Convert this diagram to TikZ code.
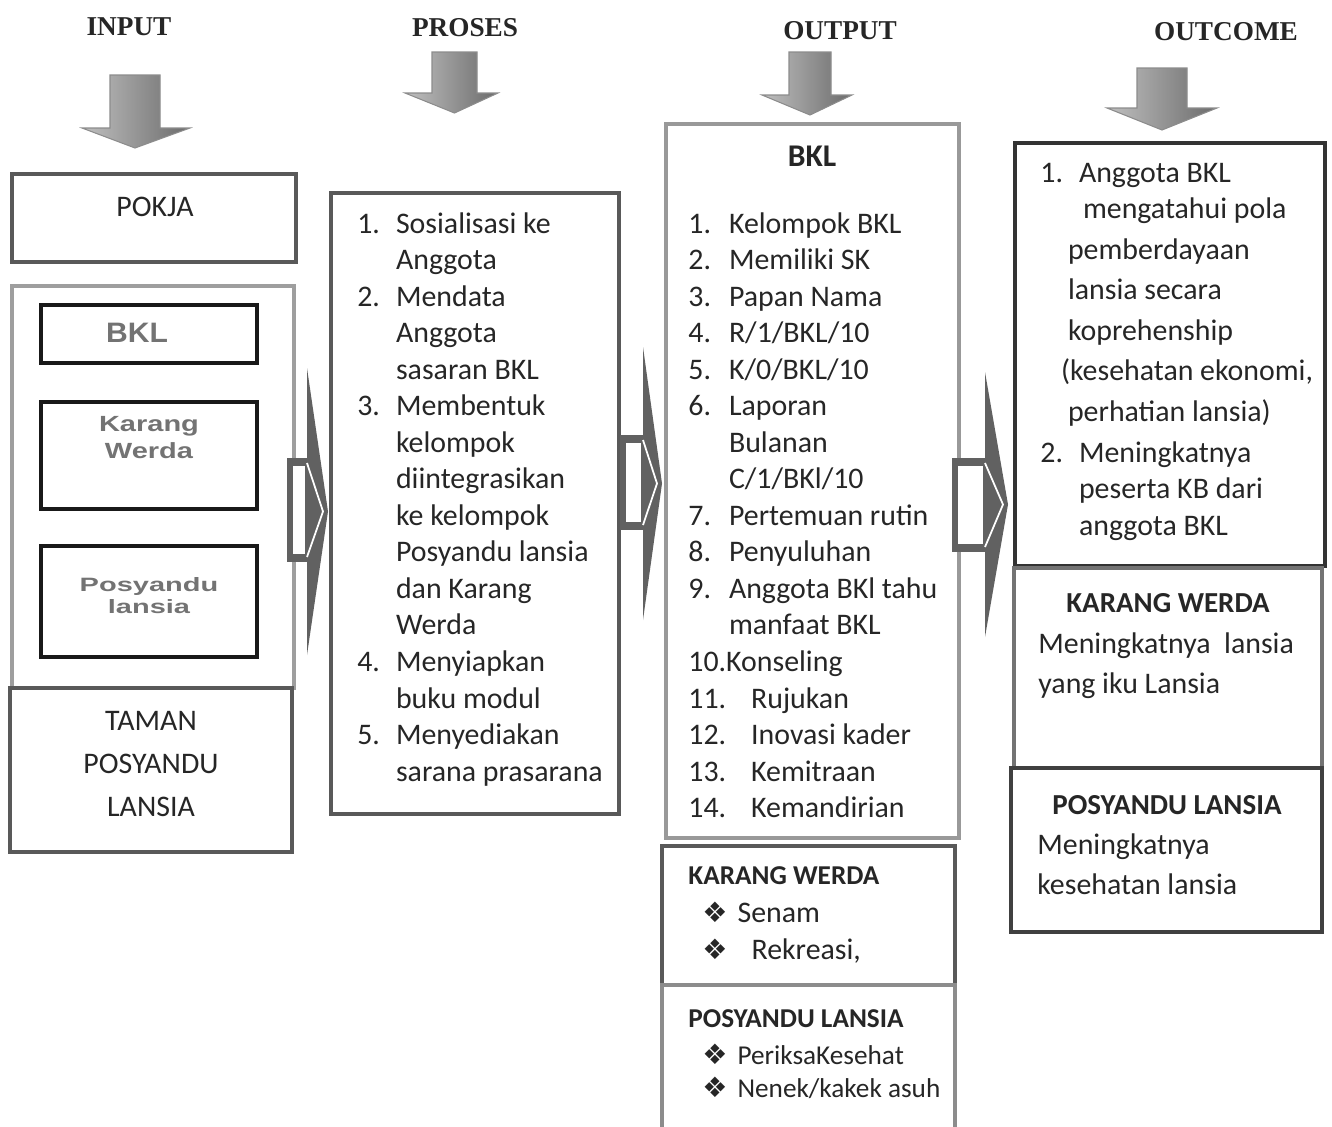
\documentclass[tikz,border=0pt]{standalone}
\usepackage{fontspec}
\setmainfont{Carlito}
\newfontfamily\hurufjudul{Liberation Serif}
\newfontfamily\hurufarial{Liberation Sans}
\newfontfamily\hurufsimbol{DejaVu Sans}
\usetikzlibrary{fit}

\newcommand{\butir}{{\hurufsimbol\fontsize{16}{16}\selectfont ❖}}
\newcommand{\baris}[1]{\multicolumn{2}{@{}l@{}}{#1}}

\begin{document}
\begin{tikzpicture}[
  x=0.02cm, y=-0.02cm,
  judul/.style={font=\hurufjudul\bfseries\fontsize{15.5}{18}\selectfont, text=black!85, inner sep=0pt},
  kotak/.style={draw=black!65, line width=2.5pt, inner sep=0pt},
  kotakdalam/.style={kotak, draw=black!90, line width=2.8pt},
  teks/.style={font=\fontsize{17}{20.8}\selectfont, text=black!85, inner sep=0pt},
  tebal/.style={teks, font=\bfseries\fontsize{15.5}{19}\selectfont},
  abuarial/.style={font=\hurufarial\bfseries, text=black!55, inner sep=0pt},
  panahbawah/.style={left color=black!25, right color=black!58, draw=black!45, line width=0.6pt},
  panahisi/.style={fill=black!62}
]
\useasboundingbox (0,0) rectangle (1332,1126);

% ---- judul kolom ----------------------------------------------------
\node[judul] (h-input)   at (129,27)  {INPUT};
\node[judul] (h-proses)  at (465,28)  {PROSES};
\node[judul] (h-output)  at (840,31)  {OUTPUT};
\node[judul] (h-outcome) at (1226,32) {OUTCOME};

% ---- panah ke bawah ---------------------------------------------------
\foreach \ua/\ub/\uc/\ud/\ue/\uf/\ug in {110/160/75/128/82/190/148,
    432/477/52/93/405/498/113, 789/831/52/95/762/852/115,
    1137/1187/68/108/1107/1217/130}
  \shade[panahbawah] (\ua,\uc) -- (\ub,\uc) -- (\ub,\ud) -- (\uf,\ud)
    -- ({(\ua+\ub)/2},\ug) -- (\ue,\ud) -- (\ua,\ud) -- cycle;

% ---- kolom input ----------------------------------------------------
\node[kotak, fit={(12,174) (296,262)}] (pokja) {};
\node[kotak, draw=black!38, fit={(12,286) (294,688)}] (wadah) {};
\node[kotakdalam, fit={(41,305) (257,363)}] (bkl-in) {};
\node[kotakdalam, fit={(41,402) (257,509)}] (kw-in) {};
\node[kotakdalam, fit={(41,546) (257,657)}] (pl-in) {};
\node[kotak, fit={(10,688) (292,852)}] (taman) {};

\node[teks] (pokja-t) at (155,207) {POKJA};
\node[abuarial] (bkl-in-t) at (137,333)
     {\scalebox{1.07}[1]{\fontsize{16}{18}\selectfont BKL}};
\node[abuarial] (kw-in-t) at (149,440)
     {\scalebox{1.32}[1]{\fontsize{12.5}{15.3}\selectfont
      \begin{tabular}{@{}c@{}}Karang\\Werda\end{tabular}}};
\node[abuarial] (pl-in-t) at (149,598)
     {\scalebox{1.5}[1]{\fontsize{11}{13}\selectfont
      \begin{tabular}{@{}c@{}}Posyandu\\lansia\end{tabular}}};
\node[teks, align=center, font=\fontsize{17}{24.4}\selectfont] (taman-t) at (151,764)
     {TAMAN\\POSYANDU\\LANSIA};

% ---- kolom proses ---------------------------------------------------
\node[kotak, fit={(331,193) (619,814)}] (proses) {};
\node[teks, anchor=base west] (proses-t) at (357,233) {%
  \begin{tabular}[t]{@{}l@{\hspace{0.32cm}}l@{}}
  1. & Sosialisasi ke\\
     & Anggota\\
  2. & Mendata\\
     & Anggota\\
     & sasaran BKL\\
  3. & Membentuk\\
     & kelompok\\
     & diintegrasikan\\
     & ke kelompok\\
     & Posyandu lansia\\
     & dan Karang\\
     & Werda\\
  4. & Menyiapkan\\
     & buku modul\\
  5. & Menyediakan\\
     & sarana prasarana
  \end{tabular}};

% ---- kolom output ---------------------------------------------------
\node[kotak, draw=black!40, fit={(666,124) (959,838)}] (output) {};
\node[kotak, fit={(662,846) (955,985)}] (kw-out) {};
\node[kotak, draw=black!45, fit={(662,985) (955,1140)}] (pl-out) {};

\node[tebal, font=\bfseries\fontsize{18}{20}\selectfont] (bkl-out) at (812,156) {BKL};
\node[teks, anchor=base west] (output-t) at (688,233) {%
  \begin{tabular}[t]{@{}l@{\hspace{0.36cm}}l@{}}
  1. & Kelompok BKL\\
  2. & Memiliki SK\\
  3. & Papan Nama\\
  4. & R/1/BKL/10\\
  5. & K/0/BKL/10\\
  6. & Laporan\\
     & Bulanan\\
     & C/1/BKl/10\\
  7. & Pertemuan rutin\\
  8. & Penyuluhan\\
  9. & Anggota BKl tahu\\
     & manfaat BKL\\
  \baris{10.Konseling}\\
  \baris{11.\hspace{0.5cm}Rujukan}\\
  \baris{12.\hspace{0.5cm}Inovasi kader}\\
  \baris{13.\hspace{0.5cm}Kemitraan}\\
  \baris{14.\hspace{0.5cm}Kemandirian}
  \end{tabular}};

\node[tebal, anchor=west] (kw-out-j) at (688,876) {KARANG WERDA};
\node[teks, anchor=base west] (senam) at (702,922) {\butir\hspace{0.2cm}Senam};
\node[teks, anchor=base west] (rekreasi) at (702,959) {\butir\hspace{0.48cm}Rekreasi,};
\node[tebal, anchor=west] (pl-out-j) at (688,1019) {POSYANDU LANSIA};
\node[teks, font=\fontsize{15.5}{19}\selectfont, anchor=base west] (periksa) at (702,1064)
     {\butir\hspace{0.2cm}PeriksaKesehat};
\node[teks, font=\fontsize{15.5}{19}\selectfont, anchor=base west] (asuh) at (702,1097)
     {\butir\hspace{0.2cm}Nenek/kakek asuh};

% ---- kolom outcome --------------------------------------------------
\node[kotak, draw=black!80, fit={(1015,143) (1325,566)}] (outcome) {};
\node[kotak, draw=black!55, fit={(1014,568) (1322,768)}] (kw-oc) {};
\node[kotak, draw=black!75, fit={(1011,768) (1322,932)}] (pl-oc) {};

\node[teks, anchor=base west] (outcome-t) at (1040,182) {%
  \begin{tabular}[t]{@{}l@{\hspace{0.32cm}}l@{}}
  1. & Anggota BKL\\
     & \hspace{0.08cm}mengatahui pola\\[2.3pt]
     & \hspace{-0.22cm}pemberdayaan\\[2.3pt]
     & \hspace{-0.22cm}lansia secara\\[2.3pt]
     & \hspace{-0.22cm}koprehenship\\[2.3pt]
     & \hspace{-0.36cm}(kesehatan ekonomi,\\[2.3pt]
     & \hspace{-0.22cm}perhatian lansia)\\[2.3pt]
  2. & Meningkatnya\\
     & peserta KB dari\\
     & anggota BKL
  \end{tabular}};

\node[tebal, font=\bfseries\fontsize{16.5}{20}\selectfont] (kw-oc-j) at (1168,603) {KARANG WERDA};
\node[teks, anchor=base west] (kw-oc-t) at (1038,653) {%
  \begin{tabular}[t]{@{}l@{}}Meningkatnya\ \ lansia\\[2.3pt] yang iku Lansia\end{tabular}};
\node[tebal, font=\bfseries\fontsize{16.5}{20}\selectfont] (pl-oc-j) at (1167,805) {POSYANDU LANSIA};
\node[teks, anchor=base west] (pl-oc-t) at (1037,854) {%
  \begin{tabular}[t]{@{}l@{}}Meningkatnya\\[2.3pt] kesehatan lansia\end{tabular}};

% ---- panah blok ke kanan (di atas garis kotak) ----------------------
\foreach \xa/\xb/\ya/\yb/\xc/\xd/\yc/\yd in {287/310/458/562/307/328/368/655,
    620/648/435/530/643/662/347/620, 952/990/458/552/985/1008/372/637} {
  \fill[panahisi] (\xa,\ya) rectangle (\xb,\yb);
  \fill[panahisi] (\xc,\yc) -- (\xd,{(\yc+\yd)/2}) -- (\xc,\yd) -- cycle;
  \draw[black!62, line width=0.6pt, fill=white] (\xa+5,\ya+7) rectangle (\xc-1,\yb-7);
  \draw[white, line width=1pt] (\xc,\ya+5) -- (\xd-5,{(\yc+\yd)/2}) -- (\xc,\yb-5);
}

\end{tikzpicture}
\end{document}
